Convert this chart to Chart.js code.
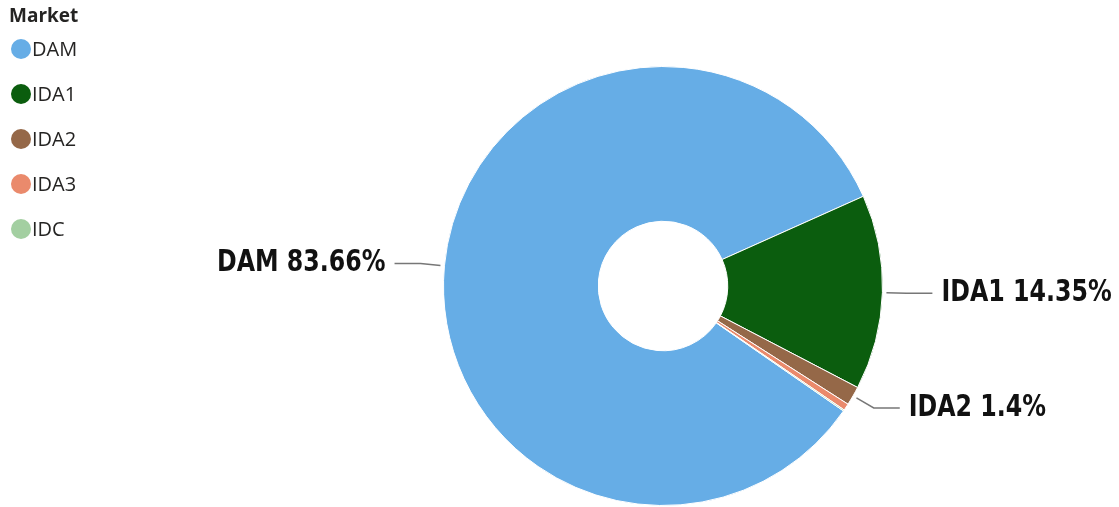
<!DOCTYPE html>
<html>
<head>
<meta charset="utf-8">
<script src="https://cdn.jsdelivr.net/npm/chart.js@4"></script>
<style>
  html, body { margin: 0; padding: 0; background: #fff; }
  #wrap { width: 1119px; height: 507px; position: relative; }
</style>
</head>
<body>
<div id="wrap"><canvas id="pie"></canvas></div>
<script>
/* ===============================
   Data
================================ */
const markets = ["DAM", "IDA1", "IDA2", "IDA3", "IDC"];
const shares = [83.66, 14.35, 1.4, 0.5, 0.09];
const colors = ["#66ADE6", "#0B5D0E", "#956848", "#EA8A6C", "#A3CFA1"];
const legendTitle = "Market";

/* ===============================
   Outside labels with leader lines
================================ */
const sliceLabels = {
  id: "sliceLabels",
  afterDatasetsDraw(chart) {
    const ctx = chart.ctx;
    const meta = chart.getDatasetMeta(0);
    meta.data.forEach((arc, i) => {
      if (shares[i] < 1) return;
      const p = arc.getProps(["x", "y", "startAngle", "endAngle", "outerRadius"], true);
      const mid = (p.startAngle + p.endAngle) / 2;
      const c = Math.cos(mid), s = Math.sin(mid);
      const right = c >= 0;
      const x1 = p.x + (p.outerRadius + 4) * c, y1 = p.y + (p.outerRadius + 4) * s;
      const x2 = p.x + (p.outerRadius + 24) * c, y2 = p.y + (p.outerRadius + 24) * s;
      const x3 = x2 + (right ? 26 : -26);

      ctx.save();
      ctx.strokeStyle = "#777";
      ctx.lineWidth = 1.5;
      ctx.beginPath();
      ctx.moveTo(x1, y1);
      ctx.lineTo(x2, y2);
      ctx.lineTo(x3, y2);
      ctx.stroke();

      // narrow bold text: squeeze horizontally
      ctx.translate(x3 + (right ? 9 : -9), y2);
      ctx.scale(0.79, 1);
      ctx.font = "bold 30px 'DejaVu Sans'";
      ctx.textBaseline = "middle";
      ctx.fillStyle = "#111";
      ctx.textAlign = right ? "left" : "right";
      ctx.fillText(markets[i] + " " + shares[i] + "%", 0, 0);
      ctx.restore();
    });
  }
};

/* ===============================
   Legend (top left)
================================ */
const sideLegend = {
  id: "sideLegend",
  afterDraw(chart) {
    const ctx = chart.ctx;
    ctx.save();
    ctx.fillStyle = "#252423";
    ctx.textBaseline = "alphabetic";
    ctx.textAlign = "left";
    ctx.font = "bold 19px 'Open Sans'";
    ctx.fillText(legendTitle, 9, 22);

    ctx.font = "20px 'Open Sans'";
    chart.data.labels.forEach((name, i) => {
      const cy = 49 + i * 45;
      ctx.fillStyle = colors[i];
      ctx.beginPath();
      ctx.arc(21, cy, 10, 0, Math.PI * 2);
      ctx.fill();
      ctx.fillStyle = "#252423";
      ctx.textBaseline = "middle";
      ctx.fillText(name, 32, cy + 1);
    });
    ctx.restore();
  }
};

new Chart(document.getElementById("pie"), {
  type: "doughnut",
  data: {
    labels: markets,
    datasets: [{
      data: shares,
      backgroundColor: colors,
      borderColor: "#fff",
      borderWidth: 1
    }]
  },
  options: {
    responsive: true,
    maintainAspectRatio: false,
    animation: false,
    cutout: "29.5%",
    rotation: 124.7,
    layout: { padding: { left: 443, right: 236, top: 66, bottom: 1 } },
    plugins: {
      legend: { display: false },
      tooltip: { enabled: false }
    }
  },
  plugins: [sliceLabels, sideLegend]
});
</script>
</body>
</html>
